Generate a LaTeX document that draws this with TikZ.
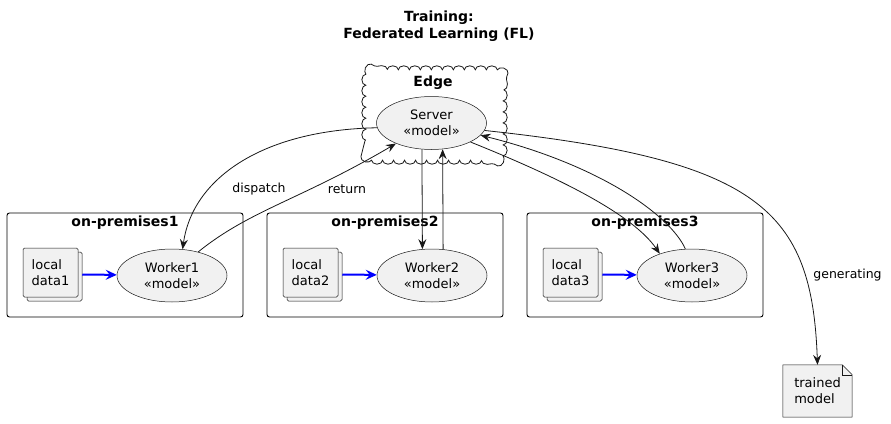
\documentclass[tikz,border=0pt]{standalone}
\usepackage{fontspec}
\setmainfont{DejaVu Sans}
\usetikzlibrary{
  arrows.meta,
  positioning,
  shapes.geometric,
  shadows,
  backgrounds,
  decorations.pathmorphing
}
\definecolor{umlfill}{HTML}{F1F1F1}
\definecolor{umlline}{HTML}{181818}

\begin{document}
\begin{tikzpicture}[
  x=1pt, y=-1pt,
  usecase/.style={
    ellipse, draw=umlline, line width=0.5pt, fill=umlfill,
    minimum width=110pt, minimum height=53pt, inner sep=0pt,
    align=center, font=\fontsize{13}{16}\selectfont
  },
  pkg/.style={
    draw=black, line width=0.9pt, rounded corners=2.5pt,
    minimum width=236pt, minimum height=104pt
  },
  pkglabel/.style={font=\fontsize{14}{17}\selectfont\bfseries},
  localdata/.style={
    rectangle, draw=umlline, line width=0.5pt, fill=umlfill,
    rounded corners=1.5pt, minimum width=55pt, minimum height=49pt,
    align=left, font=\fontsize{13}{16}\selectfont,
    copy shadow={shadow xshift=4pt, shadow yshift=-4pt,
      draw=umlline, fill=umlfill, line width=0.5pt}
  },
  cloudline/.style={
    draw=umlline, line width=0.8pt,
    decorate, decoration={bumps, segment length=22pt, amplitude=4pt}
  },
  flow/.style={umlline, line width=0.8pt, -{Stealth[length=10pt, width=8pt, inset=3.5pt]}},
  feed/.style={blue, line width=2pt, -{Stealth[length=11pt, width=10pt, inset=4pt]}},
  flowlabel/.style={font=\fontsize{12.5}{15}\selectfont}
]
\useasboundingbox (0,0) rectangle (891,423);

% TITLE
\node[font=\fontsize{14}{16.5}\selectfont\bfseries, align=center] (title) at (439,26)
  {Training:\\Federated Learning (FL)};

% EDGE
\node[minimum width=137pt, minimum height=90pt] (edge) at (434.5,115) {};
\draw[cloudline] ([yshift=20pt]edge.south west) -- ([yshift=-20pt]edge.north west)
  .. controls (edge.north west) .. ([xshift=20pt]edge.north west)
  -- ([xshift=-20pt]edge.north east)
  .. controls (edge.north east) .. ([yshift=-20pt]edge.north east)
  -- ([yshift=20pt]edge.south east)
  .. controls (edge.south east) .. ([xshift=-20pt]edge.south east)
  -- ([xshift=20pt]edge.south west)
  .. controls (edge.south west) .. ([yshift=20pt]edge.south west);
\node[pkglabel] (edgelbl) at (433,83) {Edge};
\node[usecase] (srv) at (431.5,123) {Server\\«model»};

% ON-PREMISES
\node[pkg] (pkg1) at (125,265) {};
\node[pkg] (pkg2) at (385,265) {};
\node[pkg] (pkg3) at (645,265) {};
\node[pkglabel, below=0pt of pkg1.north] {on-premises1};
\node[pkglabel, below=0pt of pkg2.north] {on-premises2};
\node[pkglabel, below=0pt of pkg3.north] {on-premises3};

\node[localdata] (ld1) at (50.5,272.5) {local\\data1};
\node[localdata] (ld2) at (310.5,272.5) {local\\data2};
\node[localdata] (ld3) at (570.5,272.5) {local\\data3};

\node[usecase] (w1) at (172,275.5) {Worker1\\«model»};
\node[usecase] (w2) at (432,275.5) {Worker2\\«model»};
\node[usecase] (w3) at (692,275.5) {Worker3\\«model»};

\draw[feed] ([xshift=4pt,yshift=-2pt]ld1.east) -- (w1);
\draw[feed] ([xshift=4pt,yshift=-2pt]ld2.east) -- (w2);
\draw[feed] ([xshift=4pt,yshift=-2pt]ld3.east) -- (w3);

% TRAINED MODEL
\node[minimum width=69pt, minimum height=52pt, align=left,
  font=\fontsize{13}{16}\selectfont] (tm) at (817.5,391) {trained\\model};
\begin{scope}[on background layer]
  \filldraw[draw=umlline, fill=umlfill, line width=0.5pt]
    (tm.north west) -- ([xshift=-10pt]tm.north east) -- ([yshift=-10pt]tm.north east)
    -- (tm.south east) -- (tm.south west) -- cycle;
  \draw[umlline, line width=0.5pt]
    ([xshift=-10pt]tm.north east) |- ([yshift=-10pt]tm.north east);
\end{scope}

% CONNECTORS
\draw[flow] (srv.185) .. controls (260,130) and (192,180) .. (w1.68);
\draw[flow] (w1.42) .. controls (250,210) and (300,200) .. (srv.210);
\draw[flow] (srv.250) -- (w2.110);
\draw[flow] (w2.67) -- (srv.293);
\draw[flow] (srv.334) .. controls (540,170) and (630,210) .. (w3.146);
\draw[flow] (w3.104) .. controls (670,215) and (600,165) .. (srv.346);
\draw[flow] (srv.352) .. controls (760,160) and (812,210) .. (tm.north);

\node[flowlabel] at (259,189) {dispatch};
\node[flowlabel] at (347,189) {return};
\node[flowlabel] at (847.5,275) {generating};

\end{tikzpicture}
\end{document}
